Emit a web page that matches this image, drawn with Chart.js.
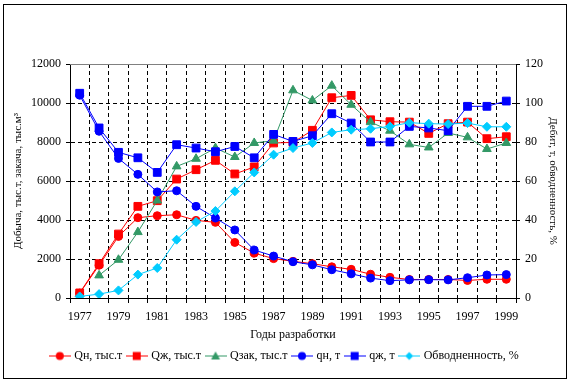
<!DOCTYPE html>
<html>
<head>
<meta charset="utf-8">
<script src="https://cdn.jsdelivr.net/npm/chart.js@4/dist/chart.umd.min.js"></script>
<style>
  html, body { margin: 0; padding: 0; background: #fff; }
</style>
</head>
<body>
<canvas id="myChart" width="570" height="384"></canvas>
<script>
const years = ["1977", "1978", "1979", "1980", "1981", "1982", "1983", "1984", "1985", "1986", "1987", "1988",
  "1989", "1990", "1991", "1992", "1993", "1994", "1995", "1996", "1997", "1998", "1999"];

// left axis, тыс.т / тыс.м3
const oilProd = [250, 1680, 3160, 4120, 4220, 4270, 3980, 3880, 2850, 2300, 2020, 1880, 1760, 1600, 1470, 1220, 1060, 950, 950, 950, 900, 960, 960];
const liquidProd = [260, 1760, 3280, 4700, 4990, 6100, 6580, 7060, 6360, 6720, 7950, 7980, 8600, 10270, 10390, 9140, 9040, 9020, 8440, 8940, 9020, 8170, 8270];
const injection = [null, 1160, 1960, 3380, 5000, 6750, 7140, 7690, 7230, 7950, 8070, 10650, 10130, 10890, 9910, 9020, 8580, 7880, 7720, 8460, 8240, 7640, 7950];

// right axis, т / %
const oilRate = [104, 85.5, 71.6, 63.4, 54.4, 55, 47, 41, 34.9, 24.6, 21.5, 18.6, 17, 14.5, 12.4, 10.2, 8.9, 9.3, 9.4, 9.3, 10.4, 11.8, 12];
const liquidRate = [105, 87.2, 74.7, 71.9, 64.4, 78.6, 76.9, 75, 77.7, 71.9, 83.9, 80.3, 83.2, 94.5, 89.7, 80, 80, 88, 87.2, 85.8, 98.3, 98.3, 101];
const waterCut = [0.8, 2, 3.9, 12, 15.4, 29.9, 39, 44.6, 54.7, 64.4, 73.5, 76.9, 79.5, 84.9, 86.3, 86.8, 88, 89.9, 89.4, 89.2, 89.7, 87.8, 87.8];

const RED = "#ff0000";
const GREEN = "#339966";
const BLUE = "#0000ff";
const CYAN = "#00ccff";

Chart.defaults.font.family = '"Liberation Serif", "Times New Roman", serif';
Chart.defaults.font.size = 11;
Chart.defaults.color = "#000";

function series(label, data, color, style, radius, axis, idx) {
  return {
    label: label,
    data: data,
    borderColor: color,
    backgroundColor: color,
    borderWidth: 1,
    pointStyle: style,
    pointRadius: radius,
    pointBorderWidth: 1,
    pointHoverRadius: radius,
    yAxisID: axis,
    order: 10 - idx,
    tension: 0,
  };
}

const datasets = [
  series("Qн, тыс.т", oilProd, RED, "circle", 4, "y", 0),
  series("Qж, тыс.т", liquidProd, RED, "rect", 5.5, "y", 1),
  series("Qзак, тыс.т", injection, GREEN, "triangle", 5, "y", 2),
  series("qн, т", oilRate, BLUE, "circle", 4, "y2", 3),
  series("qж, т", liquidRate, BLUE, "rect", 5.5, "y2", 4),
  series("Обводненность, %", waterCut, CYAN, "rectRot", 4.5, "y2", 5),
];

// small picture: line with marker, for legend
function legendIcon(ds) {
  const c = document.createElement("canvas");
  c.width = 22;
  c.height = 11;
  const g = c.getContext("2d");
  g.strokeStyle = ds.borderColor;
  g.fillStyle = ds.backgroundColor;
  g.lineWidth = 1;
  g.beginPath();
  g.moveTo(0, 5.5);
  g.lineTo(22, 5.5);
  g.stroke();
  const x = 11, y = 5.5;
  g.beginPath();
  if (ds.pointStyle === "circle") {
    g.arc(x, y, 4, 0, Math.PI * 2);
  } else if (ds.pointStyle === "rect") {
    g.rect(x - 4, y - 4, 8, 8);
  } else if (ds.pointStyle === "triangle") {
    g.moveTo(x, y - 4.5);
    g.lineTo(x + 4.5, y + 3.5);
    g.lineTo(x - 4.5, y + 3.5);
    g.closePath();
  } else {
    g.moveTo(x, y - 4);
    g.lineTo(x + 4, y);
    g.lineTo(x, y + 4);
    g.lineTo(x - 4, y);
    g.closePath();
  }
  g.fill();
  return c;
}

const frame = {
  id: "frame",
  beforeDraw(chart) {
    const ctx = chart.ctx;
    ctx.save();
    ctx.fillStyle = "#fff";
    ctx.fillRect(0, 0, chart.width, chart.height);
    ctx.strokeStyle = "#000";
    ctx.lineWidth = 1;
    ctx.strokeRect(3.5, 4.5, 563, 374);
    ctx.restore();
  },
  beforeDatasetsDraw(chart) {
    const a = chart.chartArea;
    const ctx = chart.ctx;
    ctx.save();
    ctx.strokeStyle = "#808080";
    ctx.lineWidth = 1;
    ctx.beginPath();
    ctx.moveTo(a.left, Math.round(a.top) + 0.5);
    ctx.lineTo(a.right, Math.round(a.top) + 0.5);
    ctx.stroke();
    ctx.restore();
  },
};

const cxx = document.getElementById("myChart").getContext("2d");
new Chart(cxx, {
  type: "line",
  data: {
    labels: years,
    datasets: datasets,
  },
  options: {
    responsive: false,
    animation: false,
    devicePixelRatio: 1,
    layout: {
      padding: { top: 64, left: 0, right: 0, bottom: 12 },
    },
    plugins: {
      tooltip: { enabled: false },
      legend: {
        position: "bottom",
        labels: {
          usePointStyle: true,
          pointStyleWidth: 17,
          padding: 6,
          color: "#000",
          font: { size: 12 },
          generateLabels: () =>
            datasets.map((ds, i) => ({
              text: ds.label,
              pointStyle: legendIcon(ds),
              fillStyle: ds.backgroundColor,
              strokeStyle: ds.borderColor,
              lineWidth: 0,
              hidden: false,
              datasetIndex: i,
            })),
        },
      },
    },
    scales: {
      x: {
        offset: true,
        afterFit: (s) => { s.height = 46; },
        grid: {
          offset: true,
          color: "#000",
          tickColor: "#000",
          tickLength: 5,
          lineWidth: 1,
        },
        border: { color: "#000", width: 1, dash: [4, 3] },
        ticks: {
          autoSkip: false,
          maxRotation: 0,
          padding: 7,
          font: { size: 12 },
          callback: function (value, index) {
            return index % 2 === 0 ? this.getLabelForValue(value) : "";
          },
        },
        title: {
          display: true,
          text: "Годы разработки",
          font: { size: 12 },
          padding: { top: 0, bottom: 2 },
        },
      },
      y: {
        position: "left",
        min: 0,
        max: 12000,
        afterFit: (s) => { s.width = 70; },
        grid: {
          color: (c) => (c.tick && c.tick.value === 12000 ? "rgba(0,0,0,0)" : "#000"),
          tickColor: "#000",
          tickLength: 4,
        },
        border: { color: "#000", width: 1, dash: [4, 3] },
        ticks: {
          stepSize: 2000,
          padding: 5,
          font: { size: 12 },
          callback: (v) => String(v),
        },
        title: {
          display: true,
          text: "Добыча, тыс.т, закача, тыс.м³",
          padding: { top: 12, bottom: 0 },
        },
      },
      y2: {
        position: "right",
        min: 0,
        max: 120,
        afterFit: (s) => { s.width = 54; },
        grid: {
          drawOnChartArea: false,
          tickColor: "#000",
          tickLength: 4,
        },
        border: { color: "#000", width: 1 },
        ticks: {
          stepSize: 20,
          padding: 5,
          font: { size: 12 },
          callback: (v) => String(v),
        },
        title: {
          display: true,
          text: "Дебит, т, обводненность, %",
          padding: { top: 11, bottom: 0 },
        },
      },
    },
  },
  plugins: [frame],
});
</script>
</body>
</html>
